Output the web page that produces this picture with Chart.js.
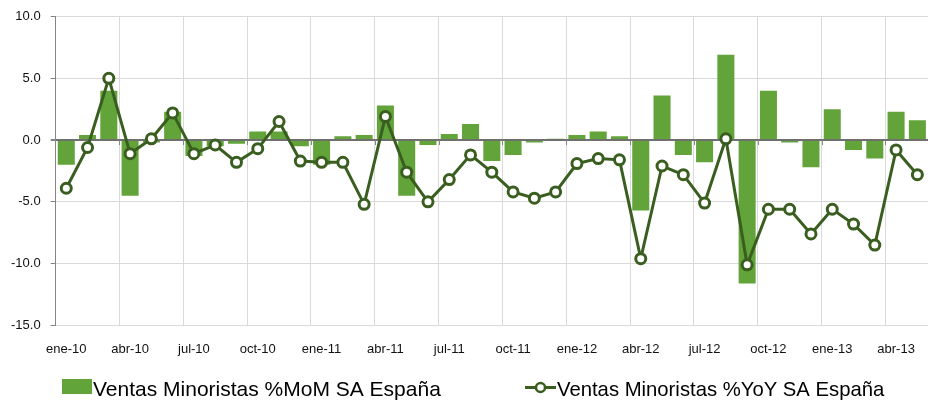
<!DOCTYPE html>
<html>
<head>
<meta charset="utf-8">
<title>Ventas Minoristas España</title>
<script src="https://cdn.jsdelivr.net/npm/chart.js@4/dist/chart.umd.min.js"></script>
<style>
  body { margin: 0; background: #fff; }
  #chart { display: block; }
</style>
</head>
<body>
<canvas id="chart" width="937" height="400"></canvas>
<script>
const categories = [
  'ene-10', 'feb-10', 'mar-10', 'abr-10', 'may-10', 'jun-10', 'jul-10', 'ago-10', 'sep-10', 'oct-10', 'nov-10', 'dic-10',
  'ene-11', 'feb-11', 'mar-11', 'abr-11', 'may-11', 'jun-11', 'jul-11', 'ago-11', 'sep-11', 'oct-11', 'nov-11', 'dic-11',
  'ene-12', 'feb-12', 'mar-12', 'abr-12', 'may-12', 'jun-12', 'jul-12', 'ago-12', 'sep-12', 'oct-12', 'nov-12', 'dic-12',
  'ene-13', 'feb-13', 'mar-13', 'abr-13', 'may-13'
];

// Ventas Minoristas %MoM SA España (barras)
const momValues = [
  -2.0, 0.4, 4.0, -4.5, -0.2, 2.3, -1.3, -0.5, -0.3, 0.7, 0.7, -0.5,
  -2.0, 0.3, 0.4, 2.8, -4.5, -0.4, 0.5, 1.3, -1.7, -1.2, -0.2, 0.1,
  0.4, 0.7, 0.3, -5.7, 3.6, -1.2, -1.8, 6.9, -11.6, 4.0, -0.2, -2.2,
  2.5, -0.8, -1.5, 2.3, 1.6
];

// Ventas Minoristas %YoY SA España (línea)
const yoyValues = [
  -3.9, -0.6, 5.0, -1.1, 0.1, 2.2, -1.1, -0.4, -1.8, -0.7, 1.5, -1.7,
  -1.8, -1.8, -5.2, 1.9, -2.6, -5.0, -3.2, -1.2, -2.6, -4.2, -4.7, -4.2,
  -1.9, -1.5, -1.6, -9.6, -2.1, -2.8, -5.1, 0.1, -10.1, -5.6, -5.6, -7.6,
  -5.6, -6.8, -8.5, -0.8, -2.8
];

const yTicks = [-15, -10, -5, 0, 5, 10];

const barColor = '#62a33a';
const lineColor = '#3a5e1f';
const gridColor = '#d9d9d9';
const axisColor = '#858585';

Chart.defaults.font.family = "'Liberation Sans', Arial, sans-serif";
Chart.defaults.color = '#111';

// small tick marks on the zero line, every 3 months
const zeroTicks = {
  id: 'zeroTicks',
  afterDatasetsDraw(chart) {
    const x = chart.scales.x;
    const y = chart.scales.y;
    const ctx = chart.ctx;
    const half = (x.getPixelForValue(1) - x.getPixelForValue(0)) / 2;
    const y0 = y.getPixelForValue(0);
    ctx.save();
    ctx.strokeStyle = axisColor;
    ctx.lineWidth = 1;
    ctx.beginPath();
    categories.forEach((c, i) => {
      if (i % 3 !== 0 || i === 0) return;
      const px = Math.round(x.getPixelForValue(i) - half) + 0.5;
      ctx.moveTo(px, y0);
      ctx.lineTo(px, y0 + 5);
    });
    ctx.stroke();
    ctx.restore();
  }
};

// legend drawn by hand so the text sits right next to the symbol
const bottomLegend = {
  id: 'bottomLegend',
  afterDraw(chart) {
    const ctx = chart.ctx;
    const bars = chart.data.datasets.find(d => d.type === 'bar');
    const line = chart.data.datasets.find(d => d.type === 'line');
    ctx.save();
    ctx.font = "21px 'Liberation Sans', Arial, sans-serif";
    ctx.textBaseline = 'alphabetic';

    ctx.fillStyle = barColor;
    ctx.fillRect(62, 379, 30, 15);
    ctx.fillStyle = '#000';
    ctx.fillText(bars.label, 93, 396);

    ctx.strokeStyle = lineColor;
    ctx.lineWidth = 3;
    ctx.beginPath();
    ctx.moveTo(525, 387.5);
    ctx.lineTo(556, 387.5);
    ctx.stroke();
    ctx.beginPath();
    ctx.arc(540.5, 387.5, 4.5, 0, Math.PI * 2);
    ctx.fillStyle = '#fff';
    ctx.fill();
    ctx.lineWidth = 2.5;
    ctx.stroke();
    ctx.fillStyle = '#000';
    ctx.font = "20.3px 'Liberation Sans', Arial, sans-serif";
    ctx.fillText(line.label, 557, 396);
    ctx.restore();
  }
};

new Chart(document.getElementById('chart'), {
  type: 'bar',
  data: {
    labels: categories,
    datasets: [
      {
        type: 'line',
        label: 'Ventas Minoristas %YoY SA España',
        data: yoyValues,
        borderColor: lineColor,
        borderWidth: 3,
        pointRadius: 5,
        pointBorderWidth: 3,
        pointBackgroundColor: '#fff',
        pointBorderColor: lineColor,
        tension: 0,
        order: 0
      },
      {
        type: 'bar',
        label: 'Ventas Minoristas %MoM SA España',
        data: momValues,
        backgroundColor: barColor,
        categoryPercentage: 1,
        barPercentage: 0.8,
        order: 1
      }
    ]
  },
  options: {
    responsive: false,
    animation: false,
    layout: { padding: { left: 1, right: 9, top: 8, bottom: 27 } },
    plugins: {
      legend: { display: false },
      tooltip: { enabled: false }
    },
    scales: {
      x: {
        offset: true,
        grid: {
          offset: true,
          drawTicks: false,
          color: (c) => (c.index % 3 === 0 ? gridColor : 'rgba(0,0,0,0)'),
          lineWidth: 1
        },
        border: { display: false },
        ticks: {
          autoSkip: false,
          maxRotation: 0,
          padding: 16,
          font: { size: 13 },
          color: '#111',
          callback: (v, i) => (i % 3 === 0 ? categories[i] : '')
        }
      },
      y: {
        min: yTicks[0],
        max: yTicks[yTicks.length - 1],
        afterBuildTicks: (axis) => { axis.ticks = yTicks.map(v => ({ value: v })); },
        grid: {
          color: (c) => (c.tick && c.tick.value === 0 ? '#6f6f6f' : gridColor),
          lineWidth: (c) => (c.tick && c.tick.value === 0 ? 2 : 1),
          tickColor: axisColor,
          tickLength: 5
        },
        border: { display: true, color: axisColor, width: 1 },
        ticks: {
          padding: 10,
          font: { size: 13, lineHeight: 1 },
          color: '#111',
          callback: (v) => Number(v).toFixed(1)
        }
      }
    }
  },
  plugins: [zeroTicks, bottomLegend]
});
</script>
</body>
</html>
